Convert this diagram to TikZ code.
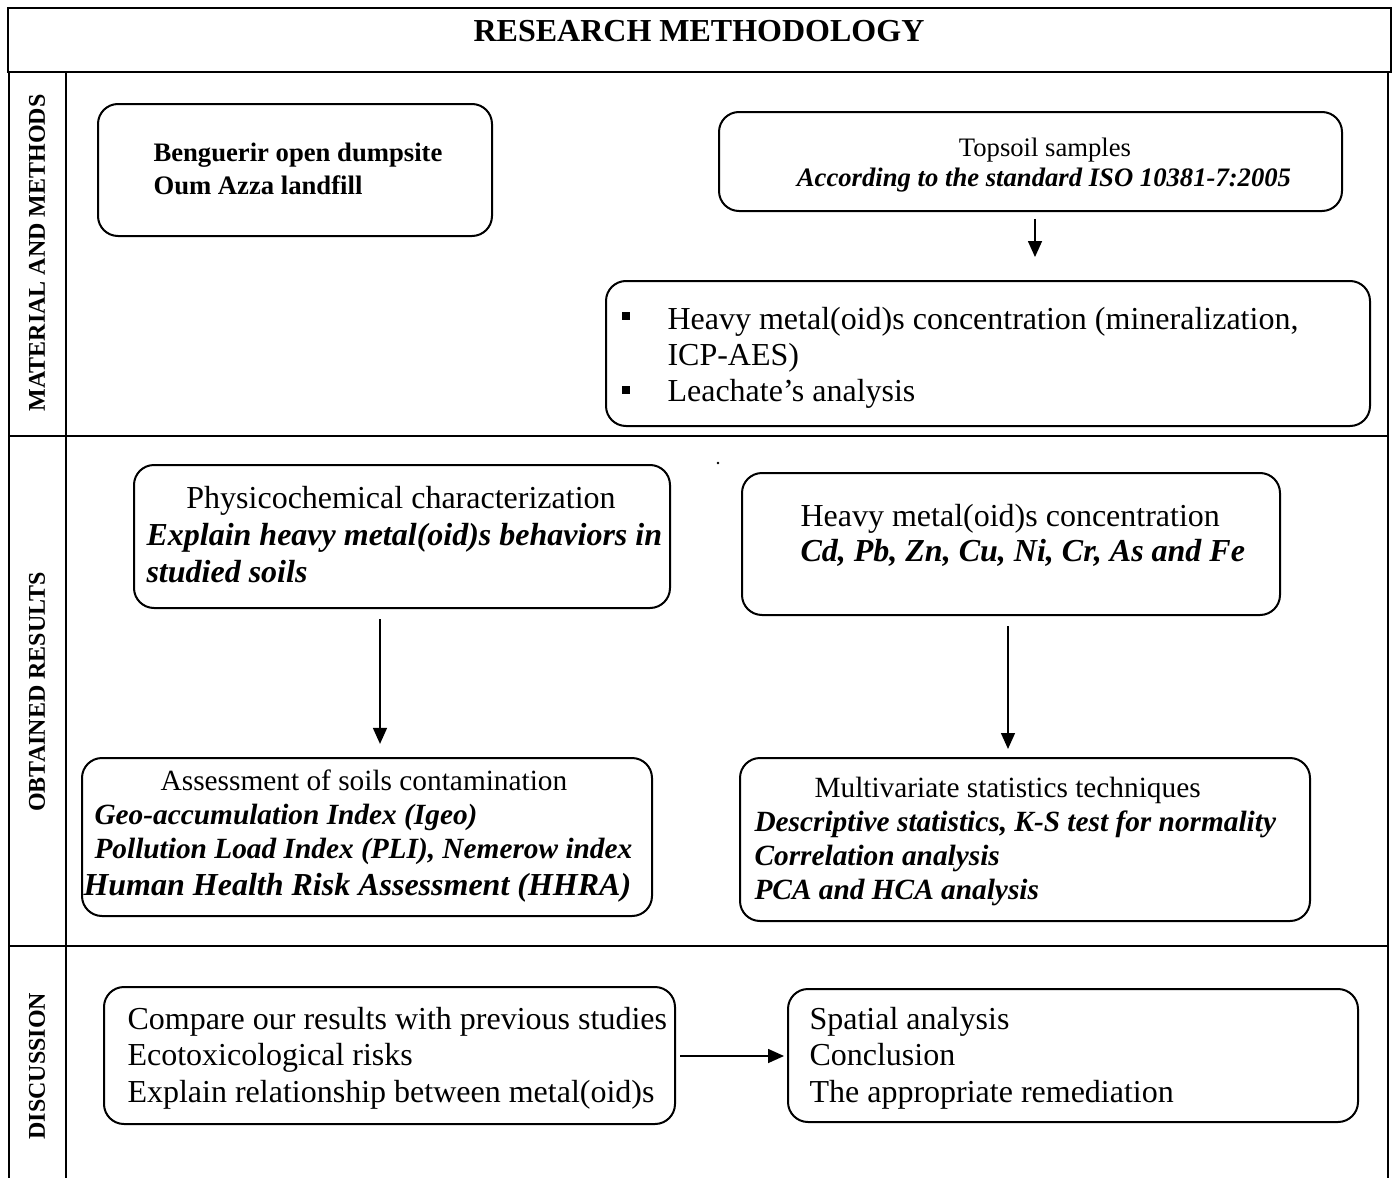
\documentclass[tikz,border=0pt]{standalone}
\usepackage{fontspec}
\setmainfont{Liberation Serif}
\usetikzlibrary{fit,arrows.meta}
\begin{document}
\begin{tikzpicture}[x=0.375pt,y=-0.375pt,
  frame/.style={line width=1.1pt},
  box/.style={draw,line width=0.75pt,rounded corners=7.5pt,inner sep=0pt},
  txt/.style={inner sep=0pt,anchor=base west},
  ctxt/.style={inner sep=0pt,anchor=base},
  rXII/.style={font=\fontsize{12}{14}\selectfont},
  biXII/.style={font=\fontsize{12}{14}\selectfont\bfseries\itshape},
  bXII/.style={font=\fontsize{12}{14}\selectfont\bfseries},
  rXI/.style={font=\fontsize{11}{13}\selectfont},
  biXI/.style={font=\fontsize{11}{13}\selectfont\bfseries\itshape},
  rX/.style={font=\fontsize{10}{12}\selectfont},
  bX/.style={font=\fontsize{10}{12}\selectfont\bfseries},
  biX/.style={font=\fontsize{10}{12}\selectfont\bfseries\itshape},
  side/.style={font=\fontsize{9}{11}\selectfont\bfseries,rotate=90,inner sep=0pt,anchor=center},
  bullet/.style={fill,inner sep=0pt,minimum size=3pt},
  arr/.style={line width=0.7pt,-{Triangle[length=6pt,width=5.2pt]}}
]
\useasboundingbox (0,0) rectangle (1394,1178);

% table frame
\draw[frame] (8,8) rectangle (1391,72);
\draw[frame] (9,72) -- (9,1178);
\draw[frame] (66,72) -- (66,1178);
\draw[frame] (1388,72) -- (1388,1178);
\draw[frame] (9,436) -- (1388,436);
\draw[frame] (9,946) -- (1388,946);

\node[ctxt,bXII] (title) at (699,41) {RESEARCH METHODOLOGY};
\node[side] (s1) at (37,253) {MATERIAL AND METHODS};
\node[side] (s2) at (37,692) {OBTAINED RESULTS};
\node[side] (s3) at (37,1066) {DISCUSSION};

% boxes
\node[box,fit={(98,104) (492,236)}] (beng) {};
\node[box,fit={(719,112) (1342,211)}] (topsoil) {};
\node[box,fit={(606,281) (1370,426)}] (heavy) {};
\node[box,fit={(134,465) (670,608)}] (phys) {};
\node[box,fit={(742,473) (1280,615)}] (hmconc) {};
\node[box,fit={(82,758) (652,916)}] (assess) {};
\node[box,fit={(740,758) (1310,921)}] (multi) {};
\node[box,fit={(104,987) (675,1124)}] (disc1) {};
\node[box,fit={(788,989) (1358,1122)}] (disc2) {};

% texts
\node[txt,bX] (beng1) at (153,161) {Benguerir open dumpsite};
\node[txt,bX] (beng2) at (153,194) {Oum Azza landfill};

\node[ctxt,rX] (top1) at (1045,156) {Topsoil samples};
\node[ctxt,biX] (top2) at (1044,186) {According to the standard ISO 10381-7:2005};

\node[bullet] (bu1) at (626,316) {};
\node[bullet] (bu2) at (626,390) {};
\node[txt,rXII] (hv1) at (667,329) {Heavy metal(oid)s concentration (mineralization,};
\node[txt,rXII] (hv2) at (667,365) {ICP-AES)};
\node[txt,rXII] (hv3) at (667,401) {Leachate’s analysis};

\node[fill,circle,inner sep=0pt,minimum size=1pt] (dot) at (718,463) {};

\node[ctxt,rXII] (ph1) at (401,508) {Physicochemical characterization};
\node[txt,biXII] (ph2) at (146,545) {Explain heavy metal(oid)s behaviors in};
\node[txt,biXII] (ph3) at (146,582) {studied soils};

\node[txt,rXII] (hm1) at (800,526) {Heavy metal(oid)s concentration};
\node[txt,biXII] (hm2) at (800,561) {Cd, Pb, Zn, Cu, Ni, Cr, As and Fe};

\node[ctxt,rXI] (as1) at (364,790) {Assessment of soils contamination};
\node[txt,biXI] (as2) at (94,824) {Geo-accumulation Index (Igeo)};
\node[txt,biXI] (as3) at (94,858) {Pollution Load Index (PLI), Nemerow index};
\node[txt,biXII] (as4) at (83,895) {Human Health Risk Assessment (HHRA)};

\node[txt,rXI] (mu1) at (814,797) {Multivariate statistics techniques};
\node[txt,biXI] (mu2) at (754,831) {Descriptive statistics, K-S test for normality};
\node[txt,biXI] (mu3) at (754,865) {Correlation analysis};
\node[txt,biXI] (mu4) at (754,899) {PCA and HCA analysis};

\node[txt,rXII] (d11) at (127,1029) {Compare our results with previous studies};
\node[txt,rXII] (d12) at (127,1065) {Ecotoxicological risks};
\node[txt,rXII] (d13) at (127,1102) {Explain relationship between metal(oid)s};

\node[txt,rXII] (d21) at (809,1029) {Spatial analysis};
\node[txt,rXII] (d22) at (809,1065) {Conclusion};
\node[txt,rXII] (d23) at (809,1102) {The appropriate remediation};

% arrows
\draw[arr,shorten <=2.6pt,shorten >=8.6pt] (topsoil.south -| 1035,0) -- (heavy.north -| 1035,0);
\draw[arr,shorten <=3.75pt,shorten >=4.9pt] (phys.south -| 380,0) -- (assess.north -| 380,0);
\draw[arr,shorten <=3.75pt,shorten >=3pt] (hmconc.south -| 1008,0) -- (multi.north -| 1008,0);
\draw[arr,shorten <=1.5pt,shorten >=1.1pt] (disc1.east |- 0,1056) -- (disc2.west |- 0,1056);
\end{tikzpicture}
\end{document}
